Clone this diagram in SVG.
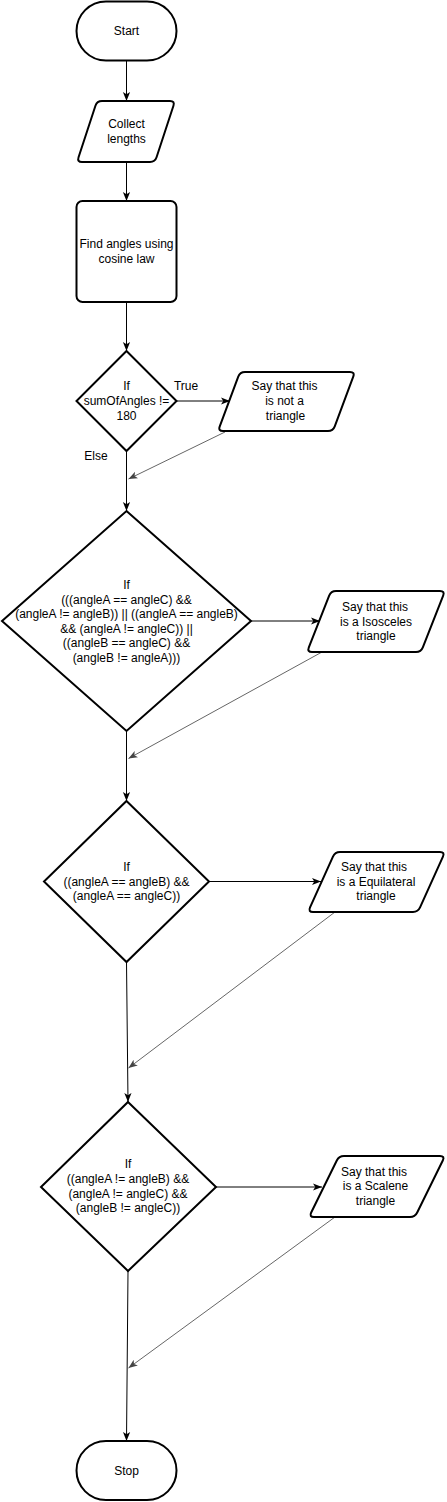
<svg xmlns="http://www.w3.org/2000/svg" width="447" height="1502" viewBox="0 0 447 1502">
<style>
.shape{fill:#fff;stroke:#000;stroke-width:2}
.t{font-family:"Liberation Sans",Arial,sans-serif;font-size:12px;fill:#000;text-anchor:middle}
.c{fill:none;stroke:#000;stroke-width:1}
.g{fill:none;stroke:#666;stroke-width:1}
</style>
<defs>
<marker id="a" viewBox="0 0 10 10" refX="10" refY="5" markerWidth="9" markerHeight="9" markerUnits="userSpaceOnUse" orient="auto"><path d="M0,1 L10,5 L0,9 L2.5,5 Z" fill="#000"/></marker>
<marker id="ag" viewBox="0 0 10 10" refX="10" refY="5" markerWidth="9" markerHeight="9" markerUnits="userSpaceOnUse" orient="auto"><path d="M0,1 L10,5 L0,9 L2.5,5 Z" fill="#444"/></marker>
</defs>
<g id="connectors">
<line class="c" x1="126.5" y1="61" x2="126.5" y2="101" marker-end="url(#a)"/>
<line class="c" x1="126.5" y1="162" x2="126.5" y2="201" marker-end="url(#a)"/>
<line class="c" x1="126.5" y1="302" x2="126.5" y2="351" marker-end="url(#a)"/>
<line class="c" x1="176.5" y1="401" x2="230" y2="401" marker-end="url(#a)"/>
<line class="g" x1="225" y1="432" x2="128.5" y2="479" marker-end="url(#ag)"/>
<line class="c" x1="126.5" y1="451" x2="126.5" y2="511" marker-end="url(#a)"/>
<line class="c" x1="251" y1="621" x2="320" y2="621" marker-end="url(#a)"/>
<line class="g" x1="322" y1="652" x2="128.5" y2="758.5" marker-end="url(#ag)"/>
<line class="c" x1="126.5" y1="731" x2="126.5" y2="801" marker-end="url(#a)"/>
<line class="c" x1="209" y1="881.5" x2="321" y2="881.5" marker-end="url(#a)"/>
<line class="g" x1="335" y1="912" x2="128.5" y2="1068" marker-end="url(#ag)"/>
<line class="c" x1="126.5" y1="962" x2="128" y2="1102" marker-end="url(#a)"/>
<line class="c" x1="216" y1="1187" x2="322" y2="1187" marker-end="url(#a)"/>
<line class="g" x1="335" y1="1217" x2="128.5" y2="1368" marker-end="url(#ag)"/>
<line class="c" x1="128" y1="1271" x2="126.5" y2="1441" marker-end="url(#a)"/>
<text class="t" x="186" y="390">True</text>
<text class="t" x="96" y="460">Else</text>
</g>
<g id="start">
<rect class="shape" x="76.5" y="1.5" width="100" height="59" rx="29.5" ry="29.5"/>
<text class="t" x="126.5" y="35">Start</text>
</g>
<g id="collect">
<path class="shape" d="M102,101 L170,101 Q175,101 173.44,105.75 L156.56,157.25 Q155,162 150,162 L82,162 Q77,162 78.56,157.25 L95.44,105.75 Q97,101 102,101 Z"/>
<text class="t" x="126.5" y="128">Collect</text>
<text class="t" x="126.5" y="143">lengths</text>
</g>
<g id="findangles">
<rect class="shape" x="76.5" y="201" width="100" height="101" rx="6" ry="6"/>
<text class="t" x="126.5" y="248">Find angles using</text>
<text class="t" x="126.5" y="263">cosine law</text>
</g>
<g id="d1">
<polygon class="shape" points="126.5,351 176.5,401 126.5,451 76.5,401"/>
<text class="t" x="126.5" y="390">If</text>
<text class="t" x="126.5" y="405">sumOfAngles !=</text>
<text class="t" x="126.5" y="420">180</text>
</g>
<g id="p1">
<path class="shape" d="M245,372 L350,372 Q355,372 353.25,376.7 L334.75,426.3 Q333,431 328,431 L223,431 Q218,431 219.75,426.3 L238.25,376.7 Q240,372 245,372 Z"/>
<text class="t" x="284.5" y="390">Say that this</text>
<text class="t" x="284.5" y="405">is not a</text>
<text class="t" x="285.5" y="420">triangle</text>
</g>
<g id="d2">
<polygon class="shape" points="126.5,511 251,621 126.5,731 2,621"/>
<text class="t" x="126.5" y="589">If</text>
<text class="t" x="126.5" y="603.5">(((angleA == angleC) &amp;&amp;</text>
<text class="t" x="126.5" y="618">(angleA != angleB)) || ((angleA == angleB)</text>
<text class="t" x="126.5" y="632.5">&amp;&amp; (angleA != angleC)) ||</text>
<text class="t" x="126.5" y="647">((angleB == angleC) &amp;&amp;</text>
<text class="t" x="126.5" y="661.5">(angleB != angleA)))</text>
</g>
<g id="p2">
<path class="shape" d="M336,591 L440,591 Q445,591 443.17,595.66 L422.83,647.34 Q421,652 416,652 L312,652 Q307,652 308.83,647.34 L329.17,595.66 Q331,591 336,591 Z"/>
<text class="t" x="375" y="611">Say that this</text>
<text class="t" x="376" y="625.5">is a Isosceles</text>
<text class="t" x="376" y="640">triangle</text>
</g>
<g id="d3">
<polygon class="shape" points="126.5,801 209,881.5 126.5,962 44,881.5"/>
<text class="t" x="126.5" y="871">If</text>
<text class="t" x="126.5" y="885.5">((angleA == angleB) &amp;&amp;</text>
<text class="t" x="126.5" y="900">(angleA == angleC))</text>
</g>
<g id="p3">
<path class="shape" d="M340,852 L440,852 Q445,852 442.95,856.56 L420.05,907.44 Q418,912 413,912 L313,912 Q308,912 310.05,907.44 L332.95,856.56 Q335,852 340,852 Z"/>
<text class="t" x="374" y="871">Say that this</text>
<text class="t" x="376" y="885.5">is a Equilateral</text>
<text class="t" x="376" y="900">triangle</text>
</g>
<g id="d4">
<polygon class="shape" points="128,1102 216,1187 128,1271 41,1187"/>
<text class="t" x="128" y="1168">If</text>
<text class="t" x="128" y="1183">((angleA != angleB) &amp;&amp;</text>
<text class="t" x="128" y="1197.5">(angleA != angleC) &amp;&amp;</text>
<text class="t" x="128" y="1212">(angleB != angleC))</text>
</g>
<g id="p4">
<path class="shape" d="M344,1156 L440,1156 Q445,1156 442.8,1160.49 L417.2,1212.51 Q415,1217 410,1217 L314,1217 Q309,1217 311.2,1212.51 L336.8,1160.49 Q339,1156 344,1156 Z"/>
<text class="t" x="374" y="1176">Say that this</text>
<text class="t" x="375.5" y="1190">is a Scalene</text>
<text class="t" x="375.5" y="1204.5">triangle</text>
</g>
<g id="stop">
<rect class="shape" x="76.5" y="1441" width="100" height="59" rx="29.5" ry="29.5"/>
<text class="t" x="126.5" y="1475">Stop</text>
</g>
</svg>
